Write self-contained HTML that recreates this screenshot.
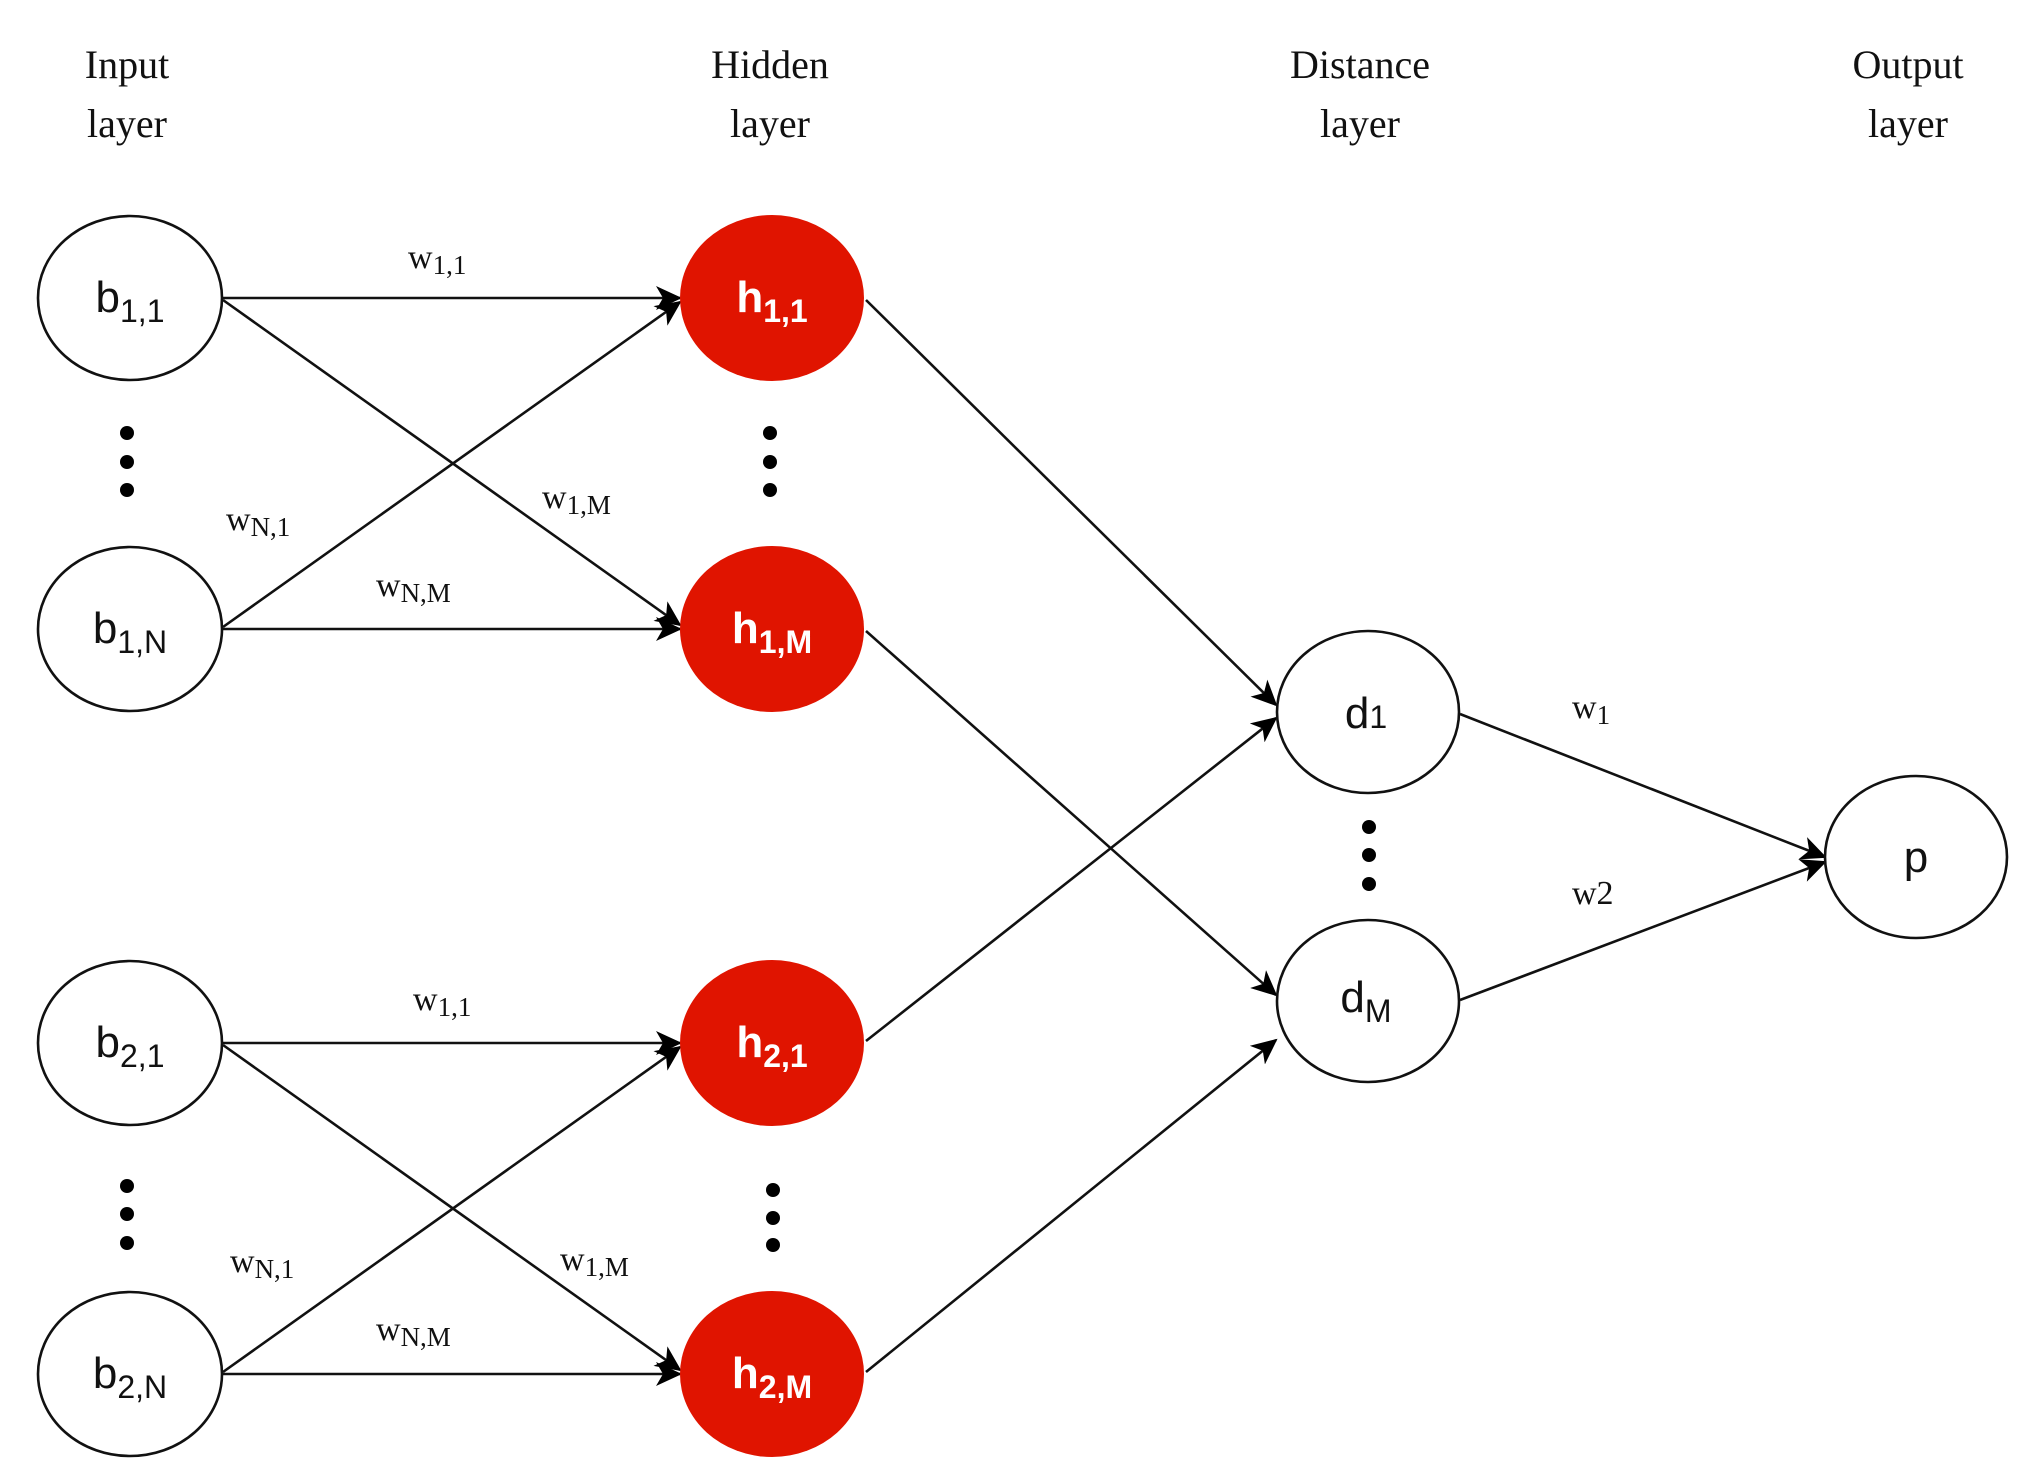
<!DOCTYPE html>
<html><head><meta charset="utf-8"><style>
html,body{margin:0;padding:0;background:#fff;}
svg{display:block;}
.hd{font-family:"Liberation Serif",serif;font-size:40px;fill:#111;text-anchor:middle;}
.wl{font-family:"Liberation Serif",serif;font-size:34px;fill:#111;}
.wl tspan.s{font-size:27px;}
.nl{font-family:"Liberation Sans",sans-serif;font-size:44px;fill:#111;text-anchor:middle;}
.nw{font-family:"Liberation Sans",sans-serif;font-size:44px;fill:#fff;font-weight:bold;text-anchor:middle;}
</style></head><body>
<svg width="2028" height="1479" viewBox="0 0 2028 1479" xmlns="http://www.w3.org/2000/svg">
<defs><marker id="a" markerWidth="10" markerHeight="10" refX="9" refY="5" orient="auto" markerUnits="userSpaceOnUse" viewBox="0 0 10 10"><path d="M0,0 L10,5 L0,10 L3,5 Z" fill="#000" transform="scale(1)"/></marker>
<marker id="b" markerWidth="26" markerHeight="24" refX="24" refY="12" orient="auto" markerUnits="userSpaceOnUse"><path d="M0,0 L26,12 L0,24 L7,12 Z" fill="#000"/></marker></defs>
<g class="hd">
<text x="127" y="78">Input</text><text x="127" y="137">layer</text>
<text x="770" y="78">Hidden</text><text x="770" y="137">layer</text>
<text x="1360" y="78">Distance</text><text x="1360" y="137">layer</text>
<text x="1908" y="78">Output</text><text x="1908" y="137">layer</text>
</g>
<g stroke="#111" stroke-width="2.6" fill="none" marker-end="url(#b)">
<line x1="223" y1="298" x2="680" y2="298"/>
<line x1="223" y1="300" x2="680" y2="625"/>
<line x1="223" y1="627" x2="680" y2="302"/>
<line x1="223" y1="629" x2="680" y2="629"/>
<line x1="223" y1="1043" x2="680" y2="1043"/>
<line x1="223" y1="1045" x2="680" y2="1370"/>
<line x1="223" y1="1372" x2="680" y2="1047"/>
<line x1="223" y1="1374" x2="680" y2="1374"/>
<line x1="866" y1="300" x2="1276" y2="705"/>
<line x1="866" y1="631" x2="1276" y2="995"/>
<line x1="866" y1="1041" x2="1276" y2="718"/>
<line x1="866" y1="1372" x2="1276" y2="1040"/>
<line x1="1460" y1="714" x2="1825" y2="857"/>
<line x1="1460" y1="1000" x2="1825" y2="862"/>
</g>
<g stroke="#111" stroke-width="2.6" fill="#fff">
<ellipse cx="130" cy="298" rx="92" ry="82"/>
<ellipse cx="130" cy="629" rx="92" ry="82"/>
<ellipse cx="130" cy="1043" rx="92" ry="82"/>
<ellipse cx="130" cy="1374" rx="92" ry="82"/>
<ellipse cx="1368" cy="712" rx="91" ry="81"/>
<ellipse cx="1368" cy="1001" rx="91" ry="81"/>
<ellipse cx="1916" cy="857" rx="91" ry="81"/>
</g>
<g fill="#e01400">
<ellipse cx="772" cy="298" rx="92" ry="83"/>
<ellipse cx="772" cy="629" rx="92" ry="83"/>
<ellipse cx="772" cy="1043" rx="92" ry="83"/>
<ellipse cx="772" cy="1374" rx="92" ry="83"/>
</g>
<g fill="#000">
<circle cx="127" cy="433" r="7"/><circle cx="127" cy="462" r="7"/><circle cx="127" cy="490" r="7"/>
<circle cx="127" cy="1186" r="7"/><circle cx="127" cy="1214" r="7"/><circle cx="127" cy="1243" r="7"/>
<circle cx="770" cy="433" r="7"/><circle cx="770" cy="462" r="7"/><circle cx="770" cy="490" r="7"/>
<circle cx="773" cy="1190" r="7"/><circle cx="773" cy="1218" r="7"/><circle cx="773" cy="1245" r="7"/>
<circle cx="1369" cy="827" r="7"/><circle cx="1369" cy="855" r="7"/><circle cx="1369" cy="884" r="7"/>
</g>
<g class="nl">
<text x="130" y="312">b<tspan font-size="32" dy="10">1,1</tspan></text>
<text x="130" y="643">b<tspan font-size="32" dy="10">1,N</tspan></text>
<text x="130" y="1057">b<tspan font-size="32" dy="10">2,1</tspan></text>
<text x="130" y="1388">b<tspan font-size="32" dy="10">2,N</tspan></text>
<text x="1366" y="728">d<tspan font-size="32">1</tspan></text>
<text x="1366" y="1012">d<tspan font-size="32" dy="10">M</tspan></text>
<text x="1916" y="872">p</text>
</g>
<g class="nw">
<text x="772" y="312">h<tspan font-size="32" dy="10">1,1</tspan></text>
<text x="772" y="643">h<tspan font-size="32" dy="10">1,M</tspan></text>
<text x="772" y="1057">h<tspan font-size="32" dy="10">2,1</tspan></text>
<text x="772" y="1388">h<tspan font-size="32" dy="10">2,M</tspan></text>
</g>
<g class="wl">
<text x="408" y="268">w<tspan class="s" dy="6">1,1</tspan></text>
<text x="226" y="530">w<tspan class="s" dy="6">N,1</tspan></text>
<text x="542" y="508">w<tspan class="s" dy="6">1,M</tspan></text>
<text x="376" y="596">w<tspan class="s" dy="6">N,M</tspan></text>
<text x="413" y="1010">w<tspan class="s" dy="6">1,1</tspan></text>
<text x="230" y="1272">w<tspan class="s" dy="6">N,1</tspan></text>
<text x="560" y="1270">w<tspan class="s" dy="6">1,M</tspan></text>
<text x="376" y="1340">w<tspan class="s" dy="6">N,M</tspan></text>
<text x="1572" y="718">w<tspan class="s" dy="6">1</tspan></text>
<text x="1572" y="904">w2</text>
</g>
</svg>
</body></html>
